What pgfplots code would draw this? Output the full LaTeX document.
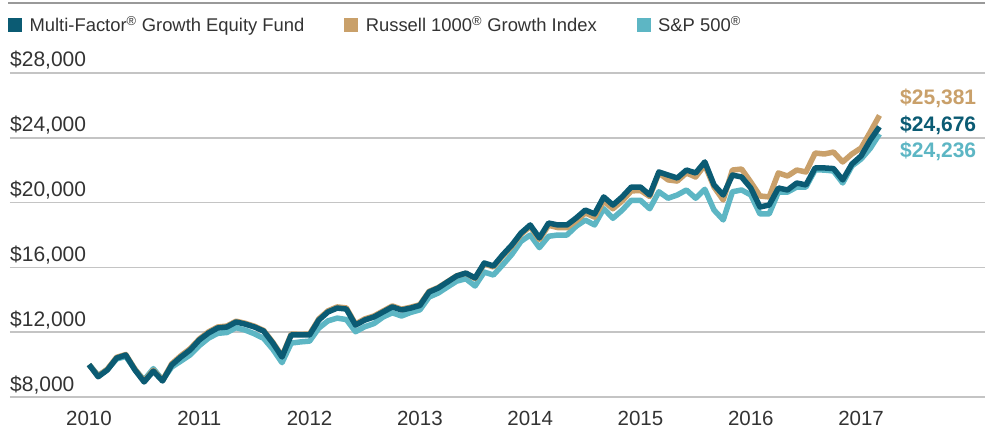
\documentclass[border=0pt]{standalone}
\usepackage{fontspec}
\setmainfont{Liberation Sans}
\usepackage{pgfplots}
\pgfplotsset{compat=1.18}
\usepackage{pgfplotstable}
\definecolor{fundc}{HTML}{0B5B73}
\definecolor{russc}{HTML}{C9A06A}
\definecolor{spc}{HTML}{5DB6C4}
\definecolor{gridc}{HTML}{C4C4C4}
\definecolor{txtc}{HTML}{333333}

\pgfplotstableread{
m fund russ sp
0 10000 10000 10000
1 9250 9300 9330
2 9670 9720 9700
3 10400 10450 10350
4 10590 10620 10500
5 9670 9720 9700
6 8930 8980 9050
7 9600 9650 9750
8 8990 9030 9050
9 9980 10050 9850
10 10470 10550 10220
11 10900 10980 10600
12 11520 11580 11170
13 11950 12020 11630
14 12260 12320 11930
15 12320 12380 11980
16 12630 12680 12280
17 12500 12550 12130
18 12320 12370 11900
19 12070 12110 11620
20 11330 11380 10950
21 10470 10520 10120
22 11830 11880 11330
23 11830 11870 11400
24 11830 11880 11450
25 12750 12820 12250
26 13250 13320 12700
27 13490 13560 12870
28 13430 13500 12780
29 12440 12500 12030
30 12750 12820 12340
31 12940 13000 12530
32 13250 13310 12940
33 13560 13620 13200
34 13370 13420 13000
35 13490 13540 13220
36 13650 13700 13380
37 14480 14520 14170
38 14730 14760 14420
39 15100 15120 14790
40 15470 15480 15150
41 15650 15640 15300
42 15350 15320 14850
43 16270 16220 15710
44 16090 16030 15530
45 16770 16700 16150
46 17380 17300 16800
47 18120 18040 17610
48 18620 18530 18000
49 17820 17720 17220
50 18740 18600 17920
51 18620 18460 18000
52 18620 18450 18000
53 19050 18870 18540
54 19540 19360 18920
55 19300 19100 18620
56 20350 20100 19630
57 19850 19620 19030
58 20350 20100 19530
59 20960 20720 20140
60 20960 20750 20140
61 20470 20380 19620
62 21890 21830 20670
63 21700 21400 20270
64 21520 21330 20470
65 22010 21830 20780
66 21830 21580 20270
67 22510 22320 20820
68 21090 20960 19540
69 20470 20160 18930
70 21700 22010 20670
71 21580 22070 20780
72 20900 21270 20470
73 19730 20410 19300
74 19850 20350 19300
75 20900 21830 20650
76 20780 21640 20650
77 21210 22010 20960
78 21090 21890 20960
79 22140 23060 22020
80 22140 23000 22010
81 22100 23120 21950
82 21400 22510 21210
83 22380 23000 22260
84 22880 23370 22690
85 23860 24360 23350
86 24676 25381 24236
}\data

\begin{document}
\begin{tikzpicture}
\useasboundingbox (0,0) rectangle (985pt,429pt);
\draw[color=black!40, line width=1.6pt] (8pt,426pt) -- (985pt,426pt);
\begin{axis}[
  at={(10pt,32pt)}, anchor=south west,
  scale only axis, width=975pt, height=324pt,
  xmin=2009.2838, xmax=2018.1233, ymin=8000, ymax=28000,
  scaled ticks=false,
  axis line style={draw=none}, tick style={draw=none}, major tick length=0pt,
  ytick={8000,12000,16000,20000,24000,28000},
  yticklabels={{\$8,000},{\$12,000},{\$16,000},{\$20,000},{\$24,000},{\$28,000}},
  xtick={2010,2011,2012,2013,2014,2015,2016,2017},
  xticklabels={2010,2011,2012,2013,2014,2015,2016,2017},
  ymajorgrids, grid style={gridc, line width=1.5pt},
  yticklabel style={anchor=base west, inner sep=0pt, yshift=6pt, font=\fontsize{21}{25}\selectfont, text=txtc},
  xticklabel style={anchor=base, inner sep=0pt, yshift=-28.5pt, font=\fontsize{20.5}{25}\selectfont, text=txtc},
  clip=false,
  legend columns=-1,
  legend cell align=left,
  legend image code/.code={\fill[#1] (0pt,-6.5pt) rectangle (13pt,6.5pt);},
  legend style={at={(axis description cs:0,1)}, anchor=west, xshift=-2pt, yshift=48.5pt,
    draw=none, fill=none, inner sep=0pt, font=\fontsize{18.4}{22}\selectfont, text=txtc,
    /tikz/every even column/.append style={column sep=38pt},
    /tikz/every odd column/.append style={column sep=6pt}},
]
\addlegendimage{color=fundc}
\addlegendentry{Multi-Factor\textsuperscript{®} Growth Equity Fund}
\addlegendimage{color=russc}
\addlegendentry{Russell 1000\textsuperscript{®} Growth Index}
\addlegendimage{color=spc}
\addlegendentry{S\&P 500\textsuperscript{®}}

\addplot[color=spc, line width=5.5pt, line join=round, forget plot] table[x expr=2010+\thisrow{m}/12, y=sp] {\data};
\addplot[color=russc, line width=5.5pt, line join=round, forget plot] table[x expr=2010+\thisrow{m}/12, y=russ] {\data};
\addplot[color=fundc, line width=5.5pt, line join=round, forget plot] table[x expr=2010+\thisrow{m}/12, y=fund] {\data};

\node[anchor=base west, inner sep=0pt, text=russc, font=\bfseries\fontsize{21}{25}\selectfont] at (axis cs:2017.353,26086) {\$25,381};
\node[anchor=base west, inner sep=0pt, text=fundc, font=\bfseries\fontsize{21}{25}\selectfont] at (axis cs:2017.353,24389) {\$24,676};
\node[anchor=base west, inner sep=0pt, text=spc, font=\bfseries\fontsize{21}{25}\selectfont] at (axis cs:2017.353,22784) {\$24,236};
\end{axis}
\end{tikzpicture}
\end{document}
